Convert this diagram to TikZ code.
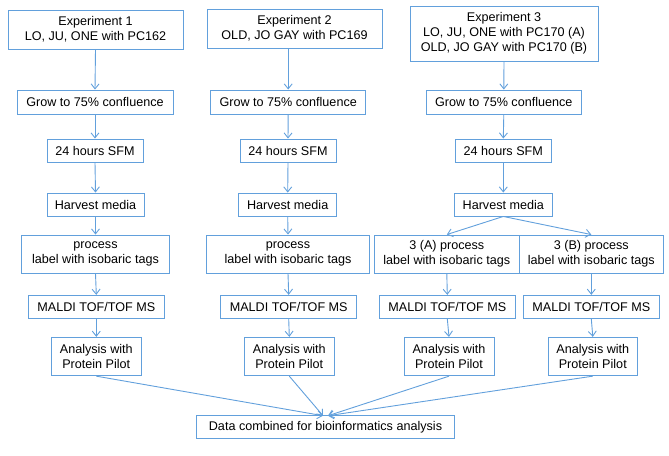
\documentclass[tikz,border=0pt]{standalone}
\usepackage{fontspec}
\setmainfont{Liberation Sans}
\usetikzlibrary{arrows.meta}
\definecolor{boxblue}{RGB}{98,160,220}
\tikzset{
  box/.style={draw=boxblue, line width=0.9pt, rectangle, inner sep=0pt, align=center,
    font=\fontsize{12.6}{15}\selectfont, text=black},
  conn/.style={draw=boxblue, line width=0.9pt, -{Straight Barb[length=5pt,width=8pt]}}
}
\begin{document}
\begin{tikzpicture}[x=1pt,y=-1pt]
\useasboundingbox (0,0) rectangle (669,455);
% column 1
\node[box, minimum width=175, minimum height=39] (exp1) at (95.5,29.5) {Experiment 1\\LO, JU, ONE with PC162};
\node[box, minimum width=156, minimum height=24] (grow1) at (95,102) {Grow to 75\% confluence};
\node[box, minimum width=96, minimum height=23] (sfm1) at (95,150.5) {24 hours SFM};
\node[box, minimum width=97, minimum height=23] (harv1) at (95.5,204.5) {Harvest media};
\node[box, minimum width=147.6, minimum height=38] (proc1) at (95.5,254) {process\\label with isobaric tags};
\node[box, minimum width=136, minimum height=23] (maldi1) at (96.3,306.8) {MALDI TOF/TOF MS};
\node[box, minimum width=90.7, minimum height=38.4] (ana1) at (96.3,356.5) {Analysis with\\Protein Pilot};
% column 2
\node[box, minimum width=175, minimum height=39] (exp2) at (294.5,28.5) {Experiment 2\\OLD, JO GAY with PC169};
\node[box, minimum width=155, minimum height=24] (grow2) at (288.2,102) {Grow to 75\% confluence};
\node[box, minimum width=96, minimum height=23] (sfm2) at (288,150.5) {24 hours SFM};
\node[box, minimum width=98, minimum height=23] (harv2) at (287.7,204.5) {Harvest media};
\node[box, minimum width=162.6, minimum height=38] (proc2) at (288,254) {process\\label with isobaric tags};
\node[box, minimum width=136, minimum height=23] (maldi2) at (288.7,306.8) {MALDI TOF/TOF MS};
\node[box, minimum width=90, minimum height=38.4] (ana2) at (289.3,356.5) {Analysis with\\Protein Pilot};
% column 3
\node[box, minimum width=188, minimum height=55] (exp3) at (504,33.5) {Experiment 3\\LO, JU, ONE with PC170 (A)\\OLD, JO GAY with PC170 (B)};
\node[box, minimum width=155.7, minimum height=24] (grow3) at (503.8,102) {Grow to 75\% confluence};
\node[box, minimum width=96.7, minimum height=23] (sfm3) at (503.3,150.5) {24 hours SFM};
\node[box, minimum width=98.7, minimum height=23] (harv3) at (503.3,204.5) {Harvest media};
\node[box, minimum width=145, minimum height=38] (proc3a) at (446.8,254) {3 (A) process\\label with isobaric tags};
\node[box, minimum width=144, minimum height=38] (proc3b) at (591.3,254) {3 (B) process\\label with isobaric tags};
\node[box, minimum width=136, minimum height=23] (maldi3a) at (447.3,306.8) {MALDI TOF/TOF MS};
\node[box, minimum width=136, minimum height=23] (maldi3b) at (591.3,306.8) {MALDI TOF/TOF MS};
\node[box, minimum width=90, minimum height=38.4] (ana3a) at (449,356.5) {Analysis with\\Protein Pilot};
\node[box, minimum width=89, minimum height=38.4] (ana3b) at (592.8,356.5) {Analysis with\\Protein Pilot};
% bottom
\node[box, minimum width=257.6, minimum height=22.6] (data) at (325.5,427) {Data combined for bioinformatics analysis};
\coordinate (inL) at (323,415.7);
\coordinate (inR) at (328,415.7);
% connectors column 1
\draw[conn] (exp1.south) -- (grow1.north);
\draw[conn] (grow1.south) -- (sfm1.north);
\draw[conn] (sfm1.south) -- (harv1.north);
\draw[conn] (harv1.south) -- (proc1.north);
\draw[conn] (proc1.south) -- (maldi1.north);
\draw[conn] (maldi1.south) -- (ana1.north);
% column 2
\draw[conn] (grow2.north |- exp2.south) -- (grow2.north);
\draw[conn] (grow2.south) -- (sfm2.north);
\draw[conn] (sfm2.south) -- (harv2.north);
\draw[conn] (harv2.south) -- (proc2.north);
\draw[conn] (proc2.south) -- (maldi2.north);
\draw[conn] (maldi2.south) -- (ana2.north);
% column 3
\draw[conn] (exp3.south) -- (grow3.north);
\draw[conn] (grow3.south) -- (sfm3.north);
\draw[conn] (sfm3.south) -- (harv3.north);
\draw[conn] (harv3.south) -- (proc3a.north);
\draw[conn] (harv3.south) -- (proc3b.north);
\draw[conn] (proc3a.south) -- (maldi3a.north);
\draw[conn] (proc3b.south) -- (maldi3b.north);
\draw[conn] (maldi3a.south) -- (ana3a.north);
\draw[conn] (maldi3b.south) -- (ana3b.north);
% to data
\draw[conn] (ana1.south) -- (inL);
\draw[conn] (ana2.south) -- (inL);
\draw[conn] (ana3a.south) -- (inR);
\draw[conn] (ana3b.south) -- (inR);
\end{tikzpicture}
\end{document}
